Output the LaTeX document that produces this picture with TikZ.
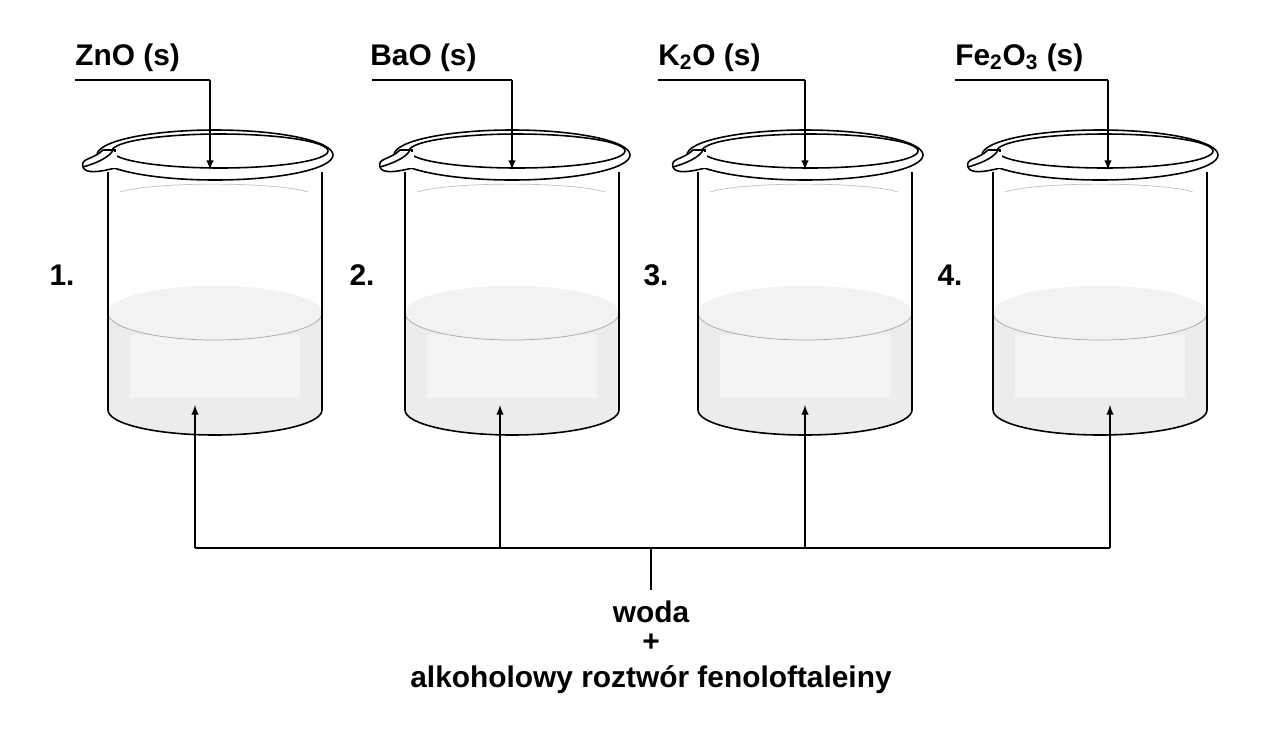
\documentclass[tikz,border=0pt]{standalone}
\usepackage{fontspec}
\setmainfont{Liberation Sans}
\begin{document}
\begin{tikzpicture}[x=0.02cm,y=-0.02cm,
  lbl/.style={font=\bfseries\fontsize{17}{20}\selectfont, inner sep=0pt},
  glass/.style={line width=0.9pt, black},
  conn/.style={line width=0.9pt},
  arr/.style={conn,-latex}]
\useasboundingbox (0,0) rectangle (1280,731);
\newcommand\mybeaker[1]{%
 \begin{scope}[shift={(#1,0)}]
  % liquid
  \fill[gray!15] (-107,313) -- (-107,410) arc[start angle=180,end angle=0,x radius=107,y radius=25] -- (107,313) arc[start angle=0,end angle=-180,x radius=107,y radius=27];
  \fill[gray!9] (-85,335) rectangle (85,398);
  \fill[gray!10] (0,313) ellipse[x radius=107,y radius=27];
  \draw[gray!70,line width=0.4pt] (-107,313) arc[start angle=180,end angle=0,x radius=107,y radius=27];
  \draw[gray!50,line width=0.4pt] (-95,192) arc[start angle=200,end angle=340,x radius=100,y radius=12];
  % body
  \draw[glass] (-107,172) -- (-107,410) arc[start angle=180,end angle=0,x radius=107,y radius=25] -- (107,172);
  % rim
  \draw[glass,fill=white] (0,155) ellipse[x radius=118,y radius=25];
  \draw[glass,fill=white] (-112,150) .. controls (-122,160) and (-135,158) .. (-132,167)
     .. controls (-130,174) and (-115,172) .. (-100,168) -- (-100,150) -- cycle;
  \draw[glass] (5,151) ellipse[x radius=108,y radius=17];
  \fill[white] (-108,152) rectangle (-98,168);
  \draw[glass] (-132,167) .. controls (-118,163) and (-108,158) .. (-103,152);
 \end{scope}}
\mybeaker{215}\mybeaker{512}\mybeaker{805}\mybeaker{1100}
% labels
\node[lbl,anchor=base west] (l1) at (75,65) {ZnO (s)};
\node[lbl,anchor=base west] (l2) at (370,65) {BaO (s)};
\node[lbl,anchor=base west] (l3) at (658,65) {K\textsubscript{2}O (s)};
\node[lbl,anchor=base west] (l4) at (955,65) {Fe\textsubscript{2}O\textsubscript{3} (s)};
\foreach \i/\a/\b in {1/75/210,2/372/512,3/658/805,4/955/1108}{
  \coordinate (s\i) at (\a,80); \coordinate (c\i) at (\b,80); \coordinate (t\i) at (\b,170);
  \draw[conn] (s\i) -- (c\i); \draw[arr] (c\i) -- (t\i);}
\node[lbl] (n1) at (62,275) {1.};
\node[lbl] (n2) at (362,275) {2.};
\node[lbl] (n3) at (656,275) {3.};
\node[lbl] (n4) at (950,275) {4.};
% bottom
\coordinate (bl) at (195,548); \coordinate (br) at (1110,548);
\coordinate (m) at (651,548); \coordinate (mb) at (651,590);
\draw[conn] (bl) -- (br); \draw[conn] (m) -- (mb);
\foreach \i/\a in {1/195,2/500,3/805,4/1110}{
  \coordinate (u\i) at (\a,548); \coordinate (v\i) at (\a,405);
  \draw[arr] (u\i) -- (v\i);}
\node[lbl] (w) at (651,612) {woda};
\node[lbl] (p) at (651,643) {+};
\node[lbl] (a) at (651,680) {alkoholowy roztwór fenoloftaleiny};
\end{tikzpicture}
\end{document}
